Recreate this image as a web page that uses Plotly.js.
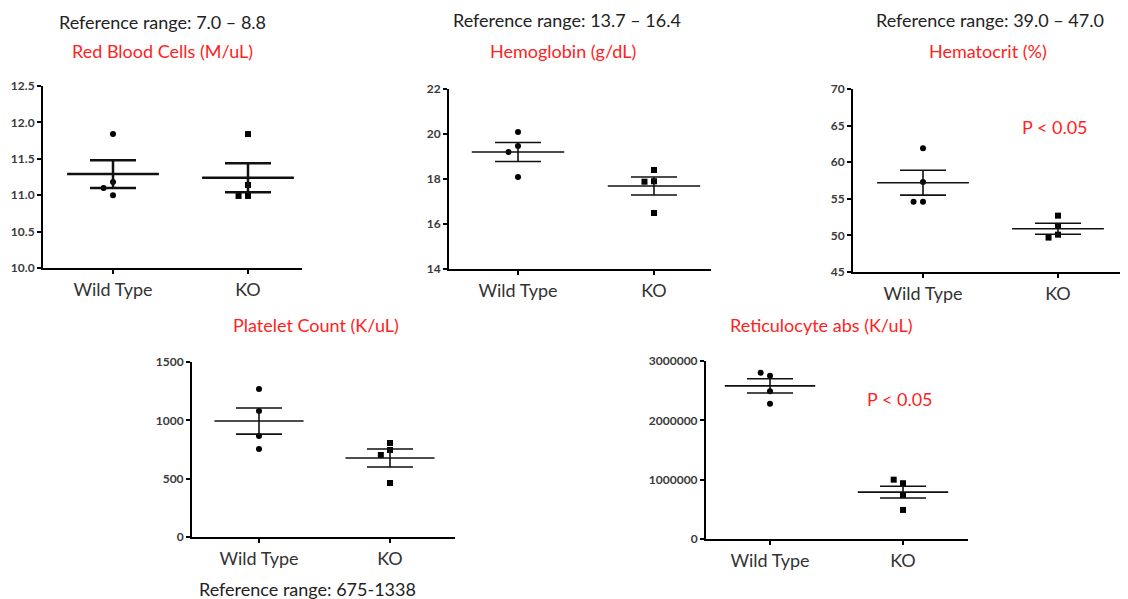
<!DOCTYPE html>
<html><head><meta charset="utf-8">
<script src="https://cdn.plot.ly/plotly-3.0.1.min.js"></script>
<style>html,body{margin:0;padding:0;background:#fff}#chart{width:1128px;height:599px}</style>
</head><body><div id="chart"></div>
<script>
const categories = ['Wild Type', 'KO'];

const rbcWT = [11.84, 11.18, 11.10, 11.00];
const rbcKO = [11.84, 11.14, 10.99, 10.99];
const rbcMean = [11.29, 11.24];
const rbcSem = [0.19, 0.20];

const hgbWT = [20.09, 19.47, 19.20, 18.09];
const hgbKO = [18.40, 17.90, 17.88, 16.49];
const hgbMean = [19.20, 17.69];
const hgbSem = [0.42, 0.40];

const hctWT = [61.9, 57.3, 54.6, 54.6];
const hctKO = [52.7, 51.3, 50.1, 49.7];
const hctMean = [57.2, 50.9];
const hctSem = [1.7, 0.75];

const pltWT = [1269, 1080, 866, 754];
const pltKO = [806, 746, 703, 463];
const pltMean = [994, 677];
const pltSem = [112, 77];

const retWT = [2750000, 2800000, 2490000, 2280000];
const retKO = [940000, 1000000, 740000, 490000];
const retMean = [2580000, 790000];
const retSem = [120000, 100000];

const W = 1128, H = 599;
const FONT = 'Lato, "Open Sans", sans-serif';
// panel geometry in pixels: [xLeft, xRight, yTop, yBottom, xWT, xKO]
const panels = [
  {wt: rbcWT, ko: rbcKO, mean: rbcMean, sem: rbcSem, px: [43, 302, 86, 268, 113, 248], yr: [10, 12.5], dtick: 0.5, fmt: '.1f', lw: 2.5},
  {wt: hgbWT, ko: hgbKO, mean: hgbMean, sem: hgbSem, px: [449, 711, 89, 269, 518, 654], yr: [14, 22], dtick: 2, fmt: 'd', lw: 1.6},
  {wt: hctWT, ko: hctKO, mean: hctMean, sem: hctSem, px: [853, 1120, 89, 272, 923, 1058], yr: [45, 70], dtick: 5, fmt: 'd', lw: 1.6},
  {wt: pltWT, ko: pltKO, mean: pltMean, sem: pltSem, px: [192, 455, 362, 537, 259, 390], yr: [0, 1500], dtick: 500, fmt: 'd', lw: 1.6},
  {wt: retWT, ko: retKO, mean: retMean, sem: retSem, px: [706, 968, 361, 539, 770, 903], yr: [0, 3000000], dtick: 1000000, fmt: 'd', lw: 1.6}
];

function jitter(vals, span) {
  const placed = [];
  return vals.map(v => {
    const cands = [0, -0.07, 0.07, -0.12, 0.12];
    for (const c of cands) {
      if (!placed.some(p => Math.abs(p.x - c) < 0.06 && Math.abs(p.y - v) < span * 0.035)) {
        placed.push({x: c, y: v});
        return c;
      }
    }
    return 0;
  });
}

const traces = [];
const layout = {
  width: W, height: H, margin: {l: 0, r: 0, t: 0, b: 0},
  paper_bgcolor: '#fff', plot_bgcolor: '#fff', showlegend: false,
  font: {family: FONT, color: '#333'},
  annotations: [], shapes: []
};

panels.forEach((p, i) => {
  const n = i + 1;
  const xa = n === 1 ? 'x' : 'x' + n, ya = n === 1 ? 'y' : 'y' + n;
  const xk = n === 1 ? 'xaxis' : 'xaxis' + n, yk = n === 1 ? 'yaxis' : 'yaxis' + n;
  const [xl, xr, yt, yb, xw, xko] = p.px;
  const unit = xko - xw;
  const span = p.yr[1] - p.yr[0];
  layout[xk] = {
    domain: [xl / W, xr / W], anchor: ya,
    range: [-(xw - xl) / unit, 1 + (xr - xko) / unit],
    tickvals: [0, 1], ticktext: categories, ticks: 'outside', ticklen: 4, tickwidth: 2, tickcolor: '#000',
    showline: true, linecolor: '#000', linewidth: 2, showgrid: false, zeroline: false,
    tickfont: {size: 18, color: '#333', family: FONT}, fixedrange: true
  };
  layout[yk] = {
    domain: [1 - yb / H, 1 - yt / H], anchor: xa,
    range: p.yr, dtick: p.dtick, tick0: p.yr[0], tickformat: p.fmt,
    ticks: 'outside', ticklen: 4, tickwidth: 2, tickcolor: '#000',
    showline: true, linecolor: '#000', linewidth: 2, showgrid: false, zeroline: false,
    tickfont: {size: 12, color: '#3a3a3a', family: FONT, weight: 'bold'}, fixedrange: true
  };
  [p.wt, p.ko].forEach((vals, g) => {
    const jit = jitter(vals, span);
    traces.push({
      type: 'scatter', mode: 'markers', xaxis: xa, yaxis: ya,
      x: vals.map((v, k) => g + jit[k]), y: vals,
      marker: {symbol: g === 0 ? 'circle' : 'square', size: 6, color: '#000'},
      hoverinfo: 'skip'
    });
    traces.push({
      type: 'scatter', mode: 'lines', xaxis: xa, yaxis: ya,
      x: [g - 0.34, g + 0.34], y: [p.mean[g], p.mean[g]],
      line: {color: '#111', width: p.lw}, hoverinfo: 'skip'
    });
    traces.push({
      type: 'scatter', mode: 'markers', xaxis: xa, yaxis: ya,
      x: [g], y: [p.mean[g]],
      marker: {size: 1, color: 'rgba(0,0,0,0)'},
      error_y: {type: 'data', array: [p.sem[g]], visible: true, color: '#111', thickness: p.lw, width: 23},
      hoverinfo: 'skip'
    });
  });
});

const red = '#ff2222';
const dark = '#222';
const ann = (text, x, y, color, size) => ({
  text: text, x: x / W, y: 1 - y / H, xref: 'paper', yref: 'paper',
  showarrow: false, xanchor: 'center', yanchor: 'middle',
  font: {size: size || 18, color: color, family: FONT}
});
layout.annotations.push(
  ann('Reference range: 7.0 – 8.8', 162, 22, dark),
  ann('Red Blood Cells (M/uL)', 162, 51, red),
  ann('Reference range: 13.7 – 16.4', 567, 20, dark),
  ann('Hemoglobin (g/dL)', 563, 51, red),
  ann('Reference range: 39.0 – 47.0', 990, 20, dark),
  ann('Hematocrit (%)', 988, 51, red),
  ann('P < 0.05', 1055, 127, red, 18),
  ann('Platelet Count (K/uL)', 316, 325, red),
  ann('Reference range: 675-1338', 307, 589, dark),
  ann('Reticulocyte abs (K/uL)', 821, 325, red),
  ann('P < 0.05', 900, 399, red, 18)
);

Plotly.newPlot('chart', traces, layout, {staticPlot: true, displayModeBar: false});
</script>
</body></html>
